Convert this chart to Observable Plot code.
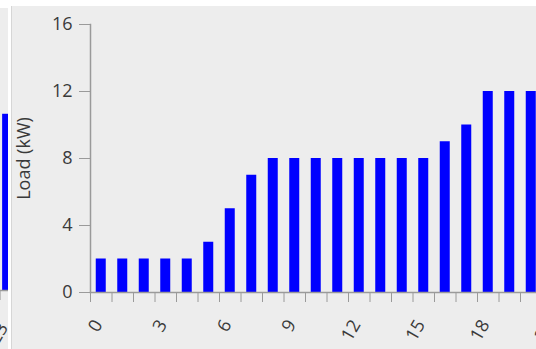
<!DOCTYPE html>
<html>
<head>
<meta charset="utf-8">
<script src="https://cdn.jsdelivr.net/npm/d3@7"></script>
<script src="https://cdn.jsdelivr.net/npm/@observablehq/plot@0.6"></script>
<style>
  html, body { margin: 0; padding: 0; background: #ffffff; width: 536px; height: 349px; overflow: hidden; }
  #left { position: absolute; left: 0; top: 8px; width: 8px; height: 341px; background: #ededed; overflow: hidden; }
  #left svg { position: absolute; right: 0; top: 0; max-width: none !important; }
  #main { position: absolute; left: 11px; top: 6px; width: 540px; height: 343px; background: #ededed; border-left: 1px solid #d6d6d6; overflow: hidden; }
  #main svg { position: absolute; left: 0; top: 0; max-width: none !important; }
</style>
</head>
<body>
<div id="left"></div>
<div id="main"></div>
<script>
// Main panel data (hour of day -> load in kW)
const hours = [0,1,2,3,4,5,6,7,8,9,10,11,12,13,14,15,16,17,18,19,20,21,22,23];
const barHours = [0,1,2,3,4,5,6,7,8,9,10,11,12,13,14,15,16,17,18,19,20];
const loads = [2,2,2,2,2,3,5,7,8,8,8,8,8,8,8,8,9,10,12,12,12];
const labelHours = [0,3,6,9,12,15,18,21];
const yTicks = [0,4,8,12,16];
const yLabel = "Load (kW)";

// Cropped neighbouring panel (only its last bar is visible)
const leftHours = [22,23];
const leftBarHours = [23];
const leftLoads = [10.6];

const data = barHours.map((h, i) => ({hour: h, load: loads[i]}));
const leftData = leftBarHours.map((h, i) => ({hour: h, load: leftLoads[i]}));

const font = "'Open Sans', sans-serif";
const textColor = "#3a3a3a";
const axisColor = "#9a9a9a";

const main = Plot.plot({
  width: 600,
  height: 343,
  marginLeft: 78,
  marginRight: 6,
  marginTop: 18,
  marginBottom: 57,
  style: {background: "transparent", fontFamily: font, fontSize: "18px", color: textColor},
  x: {type: "band", domain: hours, paddingInner: 0.535, paddingOuter: 0.2675, round: false},
  y: {domain: [0, 16]},
  marks: [
    Plot.barY(data, {x: "hour", y: "load", fill: "#0000ff"}),
    Plot.frame({anchor: "left", stroke: axisColor, strokeWidth: 1.5}),
    Plot.frame({anchor: "bottom", stroke: axisColor, strokeWidth: 1.5}),
    Plot.axisY({ticks: yTicks, tickSize: 11, tickPadding: 7, stroke: axisColor, fill: textColor, fontSize: 18,
      label: yLabel, labelAnchor: "center", labelArrow: "none", labelOffset: 73}),
    Plot.axisX({ticks: hours, tickFormat: () => "", tickSize: 10, stroke: axisColor, dx: -10.75, label: null}),
    Plot.axisX({ticks: labelHours, tickSize: 0, tickPadding: 29, tickRotate: -60, dx: -3, fill: textColor, fontSize: 18, label: null})
  ]
});
document.getElementById("main").appendChild(main);

const left = Plot.plot({
  width: 60,
  height: 341,
  marginLeft: 38,
  marginRight: 0,
  marginTop: 16,
  marginBottom: 59,
  style: {background: "transparent", fontFamily: font, fontSize: "18px", color: textColor},
  x: {type: "band", domain: leftHours, paddingInner: 0.6, paddingOuter: 0.05, align: 1, round: false},
  y: {domain: [0, 16], axis: null},
  marks: [
    Plot.barY(leftData, {x: "hour", y: "load", fill: "#0000ff"}),
    Plot.frame({anchor: "bottom", stroke: axisColor, strokeWidth: 1.5}),
    Plot.axisX({ticks: leftHours, tickFormat: () => "", tickSize: 10, stroke: axisColor, dx: -5.5, label: null}),
    Plot.axisX({ticks: [23], tickSize: 0, tickPadding: 34, tickRotate: -60, dx: -2, fill: textColor, fontSize: 18, label: null})
  ]
});
document.getElementById("left").appendChild(left);
</script>
</body>
</html>
